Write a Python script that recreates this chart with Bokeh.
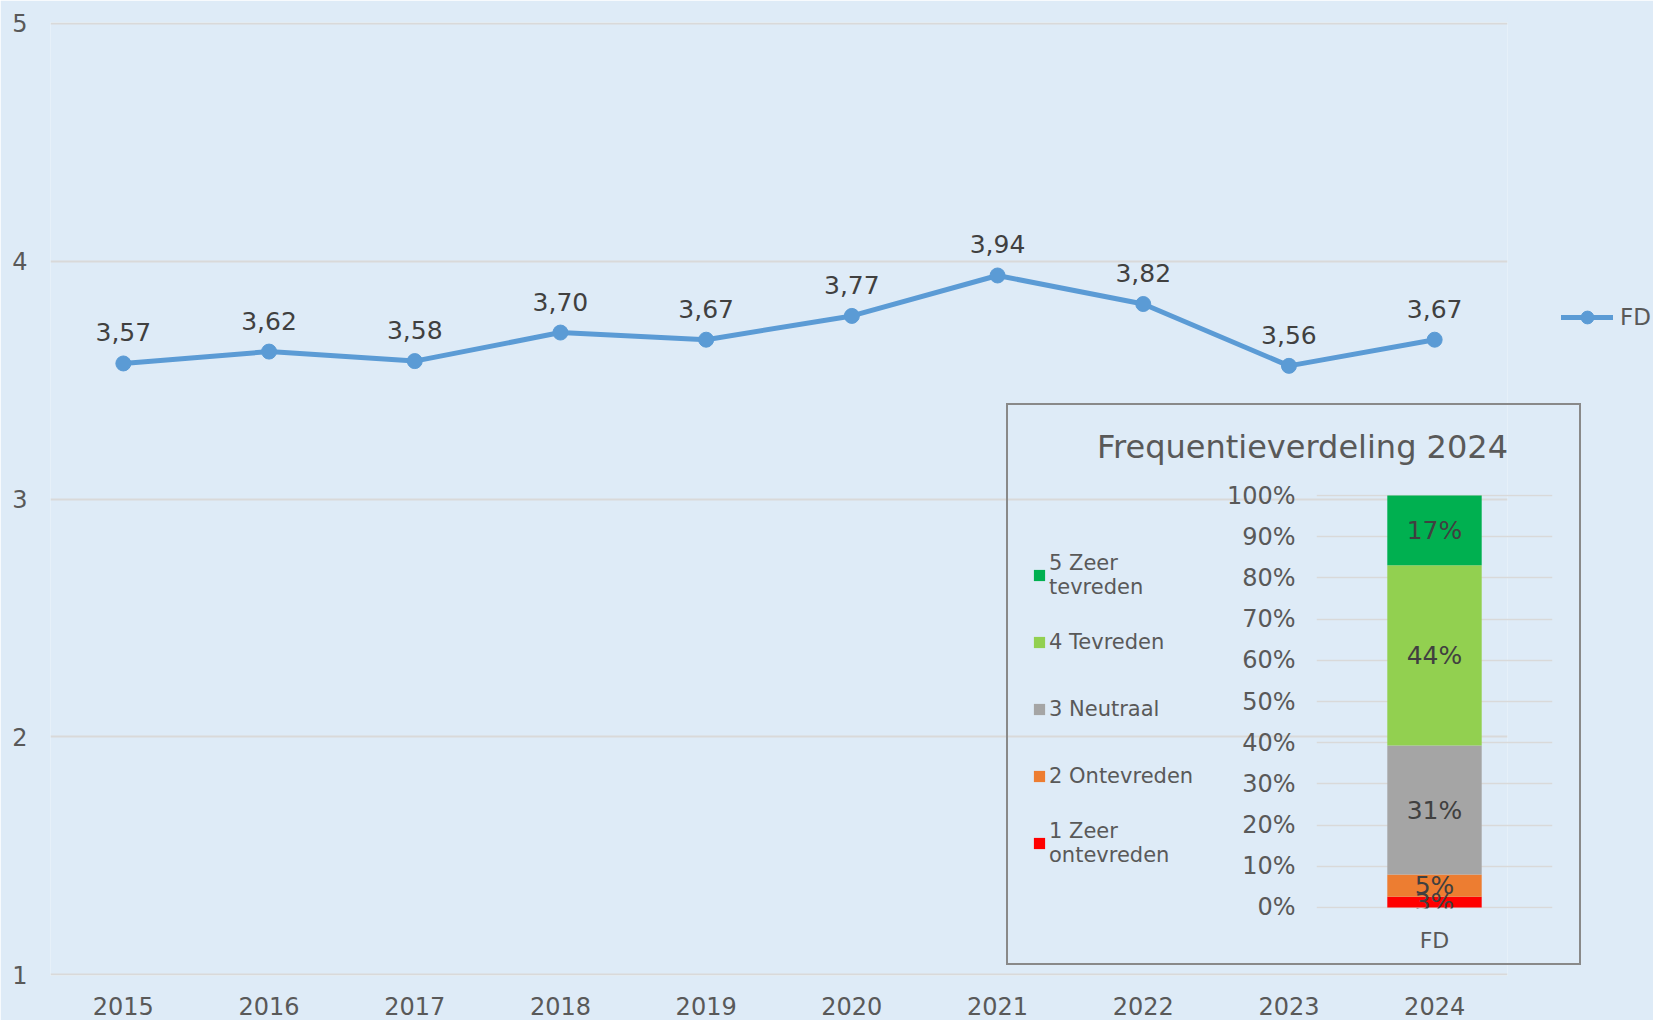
import numpy as np
from bokeh.plotting import figure
from bokeh.models import (ColumnDataSource, LabelSet, Label, Legend, LegendItem, FixedTicker,
                          Range1d, FactorRange, GlobalInlineStyleSheet)
from bokeh.core.properties import value
from bokeh.embed import file_html
from bokeh.resources import INLINE

# ---------------- data ----------------
years = ["2015", "2016", "2017", "2018", "2019", "2020", "2021", "2022", "2023", "2024"]
scores = [3.57, 3.62, 3.58, 3.70, 3.67, 3.77, 3.94, 3.82, 3.56, 3.67]
series_name = "FD"
score_ticks = [1, 2, 3, 4, 5]

inset_title = "Frequentieverdeling 2024"
inset_category = "FD"
freq_labels = ["1 Zeer\nontevreden", "2 Ontevreden", "3 Neutraal", "4 Tevreden", "5 Zeer\ntevreden"]
freq_values = [2.6, 5.4, 31.3, 43.8, 16.9]
freq_colors = ["#FF0000", "#ED7D31", "#A5A5A5", "#92D050", "#00B050"]
pct_ticks = [0, 10, 20, 30, 40, 50, 60, 70, 80, 90, 100]

# ---------------- styles ----------------
FONT = "DejaVu Sans"
BG = "#DEEBF7"
AXIS_TXT = "#595959"
LABEL_TXT = "#404040"
GRID = "#D9D9D9"
LINE = "#5B9BD5"


def style_axis(ax, size, standoff):
    ax.axis_line_color = None
    ax.major_tick_line_color = None
    ax.minor_tick_line_color = None
    ax.major_tick_out = 0
    ax.major_tick_in = 0
    ax.minor_tick_out = 0
    ax.minor_tick_in = 0
    ax.major_label_text_font = FONT
    ax.major_label_text_font_size = size
    ax.major_label_text_color = AXIS_TXT
    ax.major_label_standoff = standoff


def place(fig, left, top):
    fig.styles = {"position": "absolute", "left": f"{left}px", "top": f"{top}px"}


def bare_figure(w, h, x_range, y_range):
    f = figure(width=w, height=h, x_range=x_range, y_range=y_range,
               x_axis_location=None, y_axis_location=None, min_border=0,
               output_backend="svg", toolbar_location=None)
    f.background_fill_alpha = 0
    f.border_fill_alpha = 0
    f.outline_line_color = None
    f.grid.visible = False
    return f


# ---------------- main chart ----------------
p = figure(width=1653, height=1020,
           x_range=FactorRange(*years, range_padding=0),
           y_range=Range1d(score_ticks[0] - 0.004, score_ticks[-1] + 0.004),
           output_backend="svg", toolbar_location=None,
           min_border_left=50, min_border_right=146, min_border_top=22, min_border_bottom=45)
p.background_fill_color = BG
p.border_fill_color = BG
p.outline_line_color = None
p.xgrid.grid_line_color = None
p.ygrid.grid_line_color = GRID
p.ygrid.grid_line_width = 2
p.yaxis.ticker = FixedTicker(ticks=score_ticks)
style_axis(p.xaxis[0], "24px", 21)
style_axis(p.yaxis[0], "24px", 23)

src = ColumnDataSource(dict(year=years, score=scores,
                            label=[f"{v:.2f}".replace(".", ",") for v in scores]))
line_kw = dict(line_color=LINE, line_width=5, line_cap="round", line_join="round")
pts_kw = dict(size=15, fill_color=LINE, line_color=LINE)
p.line(x="year", y="score", source=src, **line_kw)
p.scatter(x="year", y="score", source=src, **pts_kw)

p.add_layout(LabelSet(x="year", y="score", text="label", source=src, y_offset=31,
                      text_align="center", text_baseline="middle",
                      text_font=value(FONT), text_font_size="25px", text_color=LABEL_TXT))
p.stylesheets = [GlobalInlineStyleSheet(css="html, body { overflow: hidden; margin: 0; }")]

# series legend (own small canvas at the right edge)
lg1 = bare_figure(92, 36, FactorRange(*years), Range1d(100, 101))
k_line = lg1.line(x="year", y="score", source=src, **line_kw)
k_pts = lg1.scatter(x="year", y="score", source=src, **pts_kw)
lg1.add_layout(Legend(items=[LegendItem(label=series_name, renderers=[k_line, k_pts])],
                      location="center_left", padding=0, margin=0,
                      glyph_width=52, glyph_height=32, label_standoff=7,
                      label_text_font=FONT, label_text_font_size="23px",
                      label_text_color=AXIS_TXT, background_fill_alpha=0, border_line_alpha=0))
place(lg1, 1561, 299)

# ---------------- inset chart ----------------
q = figure(width=575, height=562,
           x_range=FactorRange(inset_category),
           y_range=Range1d(pct_ticks[0] - 0.25, pct_ticks[-1] + 0.25),
           output_backend="svg", toolbar_location=None,
           min_border_left=310, min_border_right=29, min_border_top=91, min_border_bottom=57)
q.background_fill_alpha = 0
q.border_fill_alpha = 0
q.outline_line_color = None
q.xgrid.grid_line_color = None
q.ygrid.grid_line_color = GRID
q.ygrid.grid_line_width = 1.5
q.yaxis.ticker = FixedTicker(ticks=pct_ticks)
q.yaxis.major_label_overrides = {t: f"{t}%" for t in pct_ticks}
style_axis(q.yaxis[0], "24px", 21)
style_axis(q.xaxis[0], "22px", 19)

tops = np.cumsum(freq_values)
bottoms = tops - np.array(freq_values)
src2 = ColumnDataSource(dict(x=[inset_category] * len(freq_values), bottom=bottoms, top=tops,
                             mid=(bottoms + tops) / 2, color=freq_colors,
                             pct=[f"{v:.0f}%" for v in freq_values]))
bar_kw = dict(x="x", bottom="bottom", top="top", width=0.4, fill_color="color", line_color=None)
q.vbar(source=src2, **bar_kw)
q.add_layout(LabelSet(x="x", y="mid", text="pct", source=src2,
                      text_align="center", text_baseline="middle",
                      text_font=value(FONT), text_font_size="25px", text_color=LABEL_TXT))
place(q, 1006, 403)
q.styles = dict(q.styles, outline="2px solid #898989", **{"outline-offset": "-2px"})

# inset title (own small canvas, centred over the inset content)
tt = bare_figure(592, 50, Range1d(0, 1), Range1d(0, 1))
tt.add_layout(Label(x=0.5, y=0.5, text=inset_title, text_align="center", text_baseline="middle",
                    text_font=FONT, text_font_size="32px", text_color=AXIS_TXT))
place(tt, 1006, 421)

# category legend of the inset (own small canvas)
lg2 = bare_figure(200, 330, FactorRange(inset_category), Range1d(1000, 1001))
k_bar = lg2.vbar(source=src2, **bar_kw)
items = [LegendItem(label=freq_labels[i], renderers=[k_bar], index=i)
         for i in reversed(range(len(freq_labels)))]
lg2.add_layout(Legend(items=items, location="top_left", orientation="vertical",
                      padding=0, margin=0, spacing=15, glyph_width=14, glyph_height=14,
                      label_height=52, label_width=150, label_standoff=3,
                      label_text_font=FONT, label_text_font_size="21px",
                      label_text_color=AXIS_TXT, label_text_line_height=1.45,
                      background_fill_alpha=0, border_line_alpha=0))
place(lg2, 1032, 549)

open("out.html", "w").write(file_html([p, q, tt, lg1, lg2], INLINE))
